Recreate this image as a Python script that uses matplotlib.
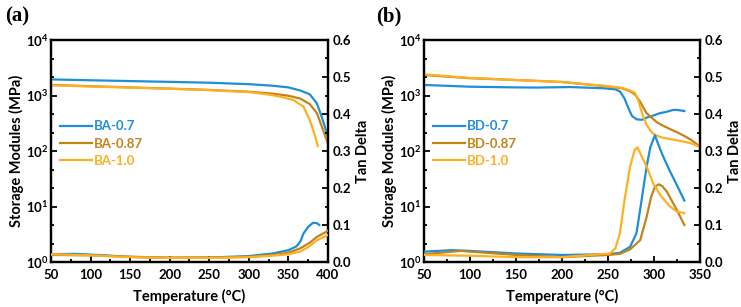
import numpy as np
import matplotlib
matplotlib.use("Agg")
import matplotlib.pyplot as plt
from matplotlib.ticker import FixedLocator, NullFormatter, MultipleLocator, FuncFormatter

plt.rcParams['font.family'] = ['Lato', 'DejaVu Sans']
plt.rcParams['font.weight'] = 'bold'
plt.rcParams['mathtext.fontset'] = 'custom'
plt.rcParams['mathtext.rm'] = 'Lato:bold'
plt.rcParams['mathtext.bf'] = 'Lato:bold'
plt.rcParams['mathtext.it'] = 'Lato:bold'
plt.rcParams['mathtext.default'] = 'bf'

C_BLUE = '#1E8ED6'
C_DARK = '#C4831A'
C_ORNG = '#FDB022'

# ---------------- Panel (a) data ----------------
a_labels = ['BA-0.7', 'BA-0.87', 'BA-1.0']
a_E_T = [
    [50, 100, 150, 200, 250, 300, 330, 350, 365, 377, 386, 392, 398, 400],
    [50, 100, 150, 200, 250, 300, 330, 350, 365, 377, 386, 392, 400],
    [50, 100, 150, 200, 250, 300, 323, 340, 356, 369, 377, 384, 387],
]
a_E = [
    [1950, 1880, 1820, 1760, 1700, 1600, 1500, 1400, 1230, 1050, 720, 415, 222, 180],
    [1550, 1470, 1400, 1330, 1260, 1170, 1080, 990, 880, 700, 480, 280, 135],
    [1530, 1450, 1390, 1320, 1250, 1150, 1050, 950, 830, 630, 360, 180, 123],
]
a_td_T = [
    [50, 80, 100, 150, 200, 250, 300, 330, 350, 360, 365, 369, 375, 381, 386, 389],
    [50, 100, 150, 200, 250, 300, 330, 350, 365, 377, 386, 398, 400],
    [50, 100, 150, 200, 250, 300, 330, 350, 365, 377, 386, 398, 400],
]
a_td = [
    [0.021, 0.022, 0.020, 0.014, 0.011, 0.012, 0.016, 0.023, 0.032, 0.042, 0.055, 0.077, 0.095, 0.106, 0.105, 0.100],
    [0.019, 0.018, 0.014, 0.012, 0.012, 0.014, 0.019, 0.025, 0.037, 0.052, 0.068, 0.082, 0.085],
    [0.021, 0.018, 0.013, 0.011, 0.011, 0.013, 0.017, 0.021, 0.028, 0.043, 0.059, 0.071, 0.073],
]

# ---------------- Panel (b) data ----------------
b_labels = ['BD-0.7', 'BD-0.87', 'BD-1.0']
b_E_T = [
    [50, 100, 150, 172, 209, 245, 258, 263, 268, 272, 276, 281, 287, 292, 300, 306, 314, 321, 325, 333],
    [50, 100, 150, 200, 245, 265, 272, 277, 281, 285, 288, 292, 296, 299, 303, 310, 317, 325, 332, 340, 350],
    [50, 100, 150, 200, 245, 265, 274, 279, 282, 285, 288, 292, 296, 299, 303, 307, 314, 323, 332, 340, 349],
]
b_E = [
    [1550, 1440, 1400, 1390, 1420, 1350, 1290, 1180, 880, 600, 430, 372, 365, 400, 440, 478, 510, 550, 550, 525],
    [2340, 2050, 1900, 1750, 1480, 1350, 1230, 1120, 960, 770, 620, 480, 420, 380, 330, 285, 250, 218, 190, 160, 120],
    [2400, 2080, 1900, 1750, 1500, 1380, 1230, 1130, 900, 620, 430, 295, 235, 205, 190, 178, 168, 158, 148, 138, 120],
]
b_td_T = [
    [50, 80, 100, 150, 200, 250, 263, 274, 281, 286, 292, 296, 301, 307, 310, 317, 325, 333],
    [50, 90, 150, 200, 250, 263, 274, 285, 292, 297, 301, 305, 309, 314, 325, 333],
    [50, 100, 150, 200, 252, 258, 263, 268, 274, 279, 282, 285, 292, 299, 308, 317, 325, 333],
]
b_td = [
    [0.028, 0.032, 0.030, 0.023, 0.019, 0.021, 0.025, 0.041, 0.078, 0.159, 0.258, 0.310, 0.342, 0.303, 0.285, 0.247, 0.207, 0.166],
    [0.021, 0.030, 0.019, 0.013, 0.019, 0.022, 0.034, 0.059, 0.122, 0.177, 0.203, 0.210, 0.205, 0.190, 0.140, 0.100],
    [0.019, 0.017, 0.013, 0.013, 0.023, 0.037, 0.078, 0.168, 0.258, 0.303, 0.310, 0.294, 0.258, 0.213, 0.177, 0.151, 0.136, 0.132],
]

colors = [C_BLUE, C_DARK, C_ORNG]

fig = plt.figure(figsize=(7.41, 3.07), dpi=100)

TICK_FS = 9.5
LAB_FS = 10.5
LW = 1.6


def decade_fmt(v, pos):
    e = int(round(np.log10(v)))
    return r'$\mathbf{10^{%d}}$' % e


def make_panel(rect, xlim, labels, E_T, E, td_T, td, letter, letter_x):
    ax = fig.add_axes(rect)
    ax2 = ax.twinx()
    for i in range(3):
        ax.plot(E_T[i], E[i], color=colors[i], lw=LW, label=labels[i], zorder=3,
                solid_joinstyle='round')
        ax2.plot(td_T[i], td[i], color=colors[i], lw=LW, zorder=3,
                 solid_joinstyle='round')
    ax.set_yscale('log')
    ax.set_ylim(1, 1e4)
    ax.set_xlim(*xlim)
    ax2.set_ylim(0, 0.6)
    ax.yaxis.set_major_locator(FixedLocator([1, 10, 100, 1000, 10000]))
    ax.yaxis.set_major_formatter(FuncFormatter(decade_fmt))
    minors = [10 ** (k / 3) for k in range(13) if k % 3 != 0]
    ax.yaxis.set_minor_locator(FixedLocator(minors))
    ax.yaxis.set_minor_formatter(NullFormatter())
    ax.xaxis.set_major_locator(MultipleLocator(50))
    ax.xaxis.set_minor_locator(MultipleLocator(25))
    ax2.yaxis.set_major_locator(MultipleLocator(0.1))
    ax2.yaxis.set_minor_locator(MultipleLocator(0.05))
    ax2.yaxis.set_major_formatter(FuncFormatter(lambda v, p: '%.1f' % v))
    for a in (ax, ax2):
        for s in a.spines.values():
            s.set_linewidth(1.6)
        a.tick_params(which='both', direction='in', width=1.3, labelsize=TICK_FS)
        a.tick_params(which='major', length=4)
        a.tick_params(which='minor', length=2.5)
    ax.tick_params(axis='x', which='both', top=False, pad=5)
    ax.tick_params(axis='y', which='both', right=False, pad=2)
    ax2.tick_params(axis='y', which='both', left=False, pad=3)
    for t in ax.get_xticklabels() + ax2.get_yticklabels():
        t.set_fontweight('bold')
    ax.set_xlabel('Temperature (°C)', fontsize=LAB_FS, fontweight='bold', labelpad=6)
    ax.set_ylabel('Storage Modules (MPa)', fontsize=LAB_FS, fontweight='bold')
    ax.yaxis.set_label_coords(-0.097, 0.5)
    ax2.set_ylabel('Tan Delta', fontsize=LAB_FS, fontweight='bold')
    ax2.yaxis.set_label_coords(1.10, 0.5)
    leg = ax.legend(loc='upper left', bbox_to_anchor=(0.0, 0.68), frameon=False,
                    fontsize=TICK_FS, handlelength=2.4, labelspacing=0.4,
                    handletextpad=0.15, labelcolor='linecolor', borderaxespad=0.3)
    for t in leg.get_texts():
        t.set_fontweight('bold')
    for h in leg.get_lines():
        h.set_linewidth(LW)
    fig.text(letter_x, 0.945, letter, fontsize=15, fontweight='bold',
             family='Liberation Serif', ha='left', va='center')
    return ax, ax2


make_panel([51 / 741, 1 - 262 / 307, 277 / 741, 222 / 307], (50, 400),
           a_labels, a_E_T, a_E, a_td_T, a_td, '(a)', 5 / 741)
make_panel([424 / 741, 1 - 262 / 307, 276 / 741, 222 / 307], (50, 350),
           b_labels, b_E_T, b_E, b_td_T, b_td, '(b)', 376 / 741)

fig.savefig('out.png', dpi=100)
